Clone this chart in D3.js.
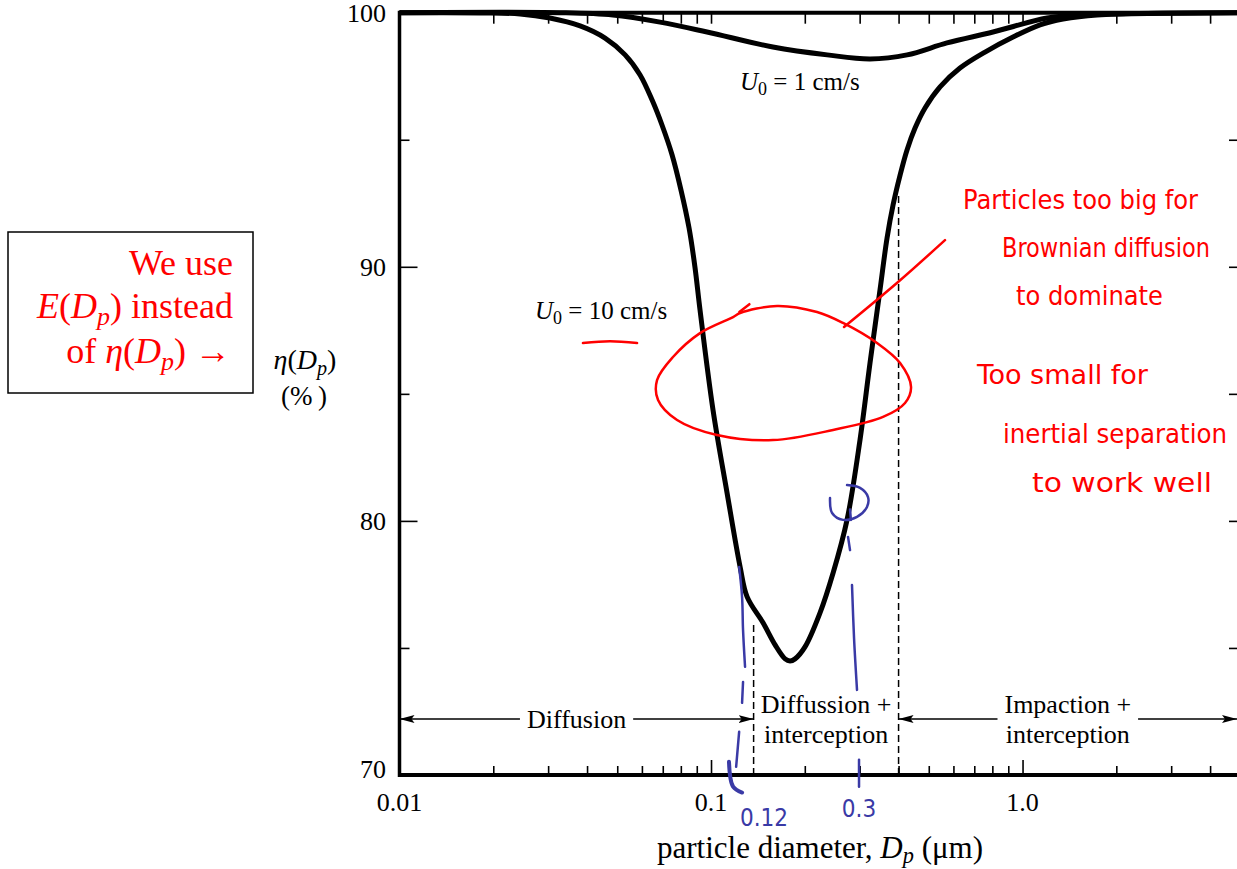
<!DOCTYPE html>
<html><head><meta charset="utf-8">
<script src="https://cdn.jsdelivr.net/npm/d3@7"></script>
<style>body{margin:0;background:#fff}svg{display:block}</style>
</head><body><svg id="c" width="1237" height="869"></svg>
<script>
// ---------- data ----------
const xMajorTicks = [0.01, 0.1, 1.0];
const xTickLabels = ["0.01", "0.1", "1.0"];
const xMinorTicks = [0.02,0.03,0.04,0.05,0.06,0.07,0.08,0.09,0.2,0.3,0.4,0.5,0.6,0.7,0.8,0.9,2,3,4];
const yMajorTicks = [70, 80, 90, 100];
const yTickLabels = ["70", "80", "90", "100"];
const yMinorTicks = [75, 85, 95];

// U0 = 10 cm/s
const dp10  = [0.01,0.0181,0.0244,0.0304,0.0380,0.0457,0.0530,0.0592,0.0647,0.0696,0.0750,0.0801,0.0850,0.0888,0.0922,0.1015,0.1126,0.1240,0.1306,0.1469,0.1606,0.1729,0.1793,0.1861,0.2003,0.2238,0.2465,0.2733,0.3008,0.3239,0.3487,0.3673,0.3840,0.4045,0.4258,0.4518,0.4864,0.5435,0.6298,0.7580,0.9322,1.138,1.349,1.735,4.88];
const eta10 = [100,99.99,99.95,99.79,99.48,99.00,98.34,97.55,96.56,95.58,94.40,93.02,91.53,89.99,88.30,84.36,81.10,78.19,77.01,75.99,75.12,74.57,74.49,74.57,75.04,76.38,77.95,80.04,83.19,86.22,89.09,91.13,92.43,93.61,94.60,95.46,96.25,97.08,97.82,98.45,99.04,99.52,99.75,99.91,100];
// U0 = 1 cm/s
const dp1  = [0.01,0.0327,0.0484,0.0686,0.0971,0.158,0.236,0.324,0.426,0.572,0.804,1.199,1.531,2.214,4.88];
const eta1 = [100,100,99.91,99.63,99.24,98.65,98.34,98.18,98.34,98.81,99.24,99.79,99.91,99.97,100];

// regimes
const regionEdges = [0.01, 0.137, 0.40, 4.88];
const regionTops = [76.0, 92.9];
const regionLabels = [["Diffusion"], ["Diffussion +", "interception"], ["Impaction +", "interception"]];
const arrowLevel = 72.2;

// hand-drawn annotations (data coordinates: diameter µm, efficiency %)
const redLoop = [[0.1240,88.18],[0.1629,88.46],[0.2189,88.22],[0.2653,87.79],[0.3411,87.00],[0.4045,86.21],[0.4386,85.27],[0.4196,84.64],[0.3566,84.09],[0.2465,83.58],[0.1581,83.18],[0.1045,83.38],[0.0778,83.97],[0.0676,84.76],[0.0671,85.54],[0.0755,86.45],[0.0922,87.39],[0.1177,88.02]];
const redTick = [[0.1233,88.22],[0.1328,88.53]];
const redPointer = [[0.2673,87.63],[0.3985,89.40],[0.5637,91.05]];
const redUnderline = [[0.0388,87.0],[0.0474,87.07],[0.0579,87.0]];
const blueStrokes = [
  [[0.1231,78.19],[0.1258,77.01],[0.1267,75.71],[0.1286,74.26]],
  [[0.1267,73.66],[0.1258,72.84]],
  [[0.1231,71.70],[0.1204,70.32]],
  [[0.1142,70.52],[0.1177,69.54],[0.1258,69.31]],
  [[0.2410,80.90],[0.2447,80.31],[0.2653,80.04],[0.2942,80.16],[0.3167,80.55],[0.3191,80.94],[0.3008,81.30],[0.2733,81.41]],
  [[0.2794,80.45],[0.2812,80.04]],
  [[0.2753,79.37],[0.2794,78.85]],
  [[0.2835,77.48],[0.2878,75.39],[0.2942,73.35]],
  [[0.2986,70.60],[0.2986,69.54]]
];
const blueNotes = [{t:"0.12", x:0.148, y:68.0}, {t:"0.3", x:0.2986, y:68.35}];
const redNotes = ["Particles too big for","Brownian diffusion","to dominate","Too small for","inertial separation","to work well"];

// ---------- drawing ----------
const serif = "'Liberation Serif','Times New Roman',serif";
const hand = "'Liberation Sans Narrow','DejaVu Sans Condensed','Liberation Sans',sans-serif";
const svg = d3.select("#c");
const x = d3.scaleLog().domain([0.01, 4.88]).range([399.5, 1237]);
const y = d3.scaleLinear().domain([70, 100]).range([775, 12.7]);

function rich(sel, parts, fs, shift) {
  const sh = fs * (shift || 0.2);
  let shifted = false;
  parts.forEach(p => {
    const ts = sel.append("tspan").text(p.t);
    if (p.i) ts.attr("font-style", "italic");
    if (p.sub) { ts.attr("font-size", fs * 0.72).attr("dy", sh); shifted = true; }
    else if (shifted) { ts.attr("dy", -sh); shifted = false; }
  });
}

// arrow marker
const defs = svg.append("defs");
defs.append("marker").attr("id", "arr").attr("markerUnits", "userSpaceOnUse")
  .attr("markerWidth", 16).attr("markerHeight", 10).attr("refX", 15).attr("refY", 5)
  .attr("orient", "auto-start-reverse")
  .append("path").attr("d", "M0,1 L15,5 L0,9 L3,5 Z").attr("fill", "#000");

// axes ticks
function tickStyle(g) { g.select(".domain").remove(); g.selectAll("line").attr("stroke", "#000").attr("stroke-width", 1.6); }
svg.append("g").attr("transform", `translate(0,${y(70)})`)
  .call(d3.axisTop(x).tickValues(xMinorTicks).tickSize(9).tickFormat("")).call(tickStyle);
svg.append("g").attr("transform", `translate(0,${y(70)})`)
  .call(d3.axisTop(x).tickValues(xMajorTicks.slice(1)).tickSize(15).tickFormat("")).call(tickStyle);
svg.append("g").attr("transform", `translate(0,${y(100)})`)
  .call(d3.axisBottom(x).tickValues(xMinorTicks.concat(xMajorTicks.slice(1))).tickSize(11).tickFormat("")).call(tickStyle);
svg.append("g").attr("transform", `translate(${x(0.01)},0)`)
  .call(d3.axisRight(y).tickValues(yMajorTicks.slice(1, 3)).tickSize(18).tickFormat("")).call(tickStyle);
svg.append("g").attr("transform", `translate(${x(0.01)},0)`)
  .call(d3.axisRight(y).tickValues(yMinorTicks).tickSize(10).tickFormat("")).call(tickStyle);
svg.append("g").attr("transform", `translate(${x.range()[1]},0)`)
  .call(d3.axisLeft(y).tickValues(yMinorTicks.concat(yMajorTicks.slice(1, 3))).tickSize(8).tickFormat("")).call(tickStyle);

// frame lines
svg.append("line").attr("x1", x(0.01)).attr("x2", x.range()[1]).attr("y1", y(100)).attr("y2", y(100)).attr("stroke", "#000").attr("stroke-width", 4);
svg.append("line").attr("x1", x(0.01)).attr("x2", x.range()[1]).attr("y1", y(70)).attr("y2", y(70)).attr("stroke", "#000").attr("stroke-width", 4);
svg.append("line").attr("x1", x(0.01)).attr("x2", x(0.01)).attr("y1", y(100) - 2).attr("y2", y(70) + 2).attr("stroke", "#000").attr("stroke-width", 3.5);

// tick labels
svg.append("g").selectAll("text").data(xMajorTicks).join("text")
  .attr("x", d => x(d)).attr("y", 811).attr("text-anchor", "middle")
  .attr("font-family", serif).attr("font-size", 26).text((d, i) => xTickLabels[i]);
svg.append("g").selectAll("text").data(yMajorTicks).join("text")
  .attr("x", 386).attr("y", d => y(d) + (d === 70 ? -6 : 0)).attr("dy", "0.35em").attr("text-anchor", "end")
  .attr("font-family", serif).attr("font-size", 26).text((d, i) => yTickLabels[i]);

// axis titles
const xt = svg.append("text").attr("x", 820).attr("y", 858).attr("text-anchor", "middle")
  .attr("font-family", serif).attr("font-size", 31);
rich(xt, [{t:"particle diameter, "},{t:"D",i:true},{t:"p",i:true,sub:true},{t:" (\u03bcm)"}], 31, 0.16);
const yt = svg.append("text").attr("x", 305).attr("y", 369).attr("text-anchor", "middle")
  .attr("font-family", serif).attr("font-size", 28);
rich(yt, [{t:"\u03b7",i:true},{t:"("},{t:"D",i:true},{t:"p",i:true,sub:true},{t:")"}], 28);
svg.append("text").attr("x", 304).attr("y", 405).attr("text-anchor", "middle")
  .attr("font-family", serif).attr("font-size", 27).text("(%\u2009)");

// regime dashed lines
svg.append("g").selectAll("line").data(regionTops).join("line")
  .attr("x1", (d, i) => x(regionEdges[i + 1])).attr("x2", (d, i) => x(regionEdges[i + 1]))
  .attr("y1", y(70)).attr("y2", d => y(d))
  .attr("stroke", "#000").attr("stroke-width", 1.5).attr("stroke-dasharray", "7,4");

// regime labels and arrows
regionLabels.forEach((lines, i) => {
  const a = regionEdges[i], b = regionEdges[i + 1];
  const cx = Math.sqrt(a * b);
  const t = svg.append("text").attr("text-anchor", "middle").attr("font-family", serif).attr("font-size", 26);
  if (lines.length === 1) {
    t.append("tspan").attr("x", x(cx)).attr("y", y(arrowLevel) + 9).text(lines[0]);
  } else {
    t.append("tspan").attr("x", x(cx)).attr("y", y(arrowLevel) - 6).text(lines[0]);
    t.append("tspan").attr("x", x(cx)).attr("y", y(arrowLevel) + 24).text(lines[1]);
  }
  if (i !== 1) {
    const bb = t.node().getBBox();
    const ay = y(arrowLevel);
    svg.append("line").attr("x1", bb.x - 7).attr("x2", x(a)).attr("y1", ay).attr("y2", ay)
      .attr("stroke", "#000").attr("stroke-width", 1.5).attr("marker-end", "url(#arr)");
    svg.append("line").attr("x1", bb.x + bb.width + 7).attr("x2", x(b)).attr("y1", ay).attr("y2", ay)
      .attr("stroke", "#000").attr("stroke-width", 1.5).attr("marker-end", "url(#arr)");
  }
});

// curves
const line = d3.line().x(d => x(d[0])).y(d => Math.max(y(d[1]), y(100))).curve(d3.curveCatmullRom.alpha(0.5));
svg.append("path").attr("d", line(dp1.map((d, i) => [d, eta1[i]])))
  .attr("fill", "none").attr("stroke", "#000").attr("stroke-width", 5);
svg.append("path").attr("d", line(dp10.map((d, i) => [d, eta10[i]])))
  .attr("fill", "none").attr("stroke", "#000").attr("stroke-width", 5).attr("stroke-linejoin", "round");

// curve labels
const l1 = svg.append("text").attr("x", 740).attr("y", 90).attr("font-family", serif).attr("font-size", 25);
rich(l1, [{t:"U",i:true},{t:"0",sub:true},{t:" = 1 cm/s"}], 25);
const l10 = svg.append("text").attr("x", 535).attr("y", 319).attr("font-family", serif).attr("font-size", 25);
rich(l10, [{t:"U",i:true},{t:"0",sub:true},{t:" = 10 cm/s"}], 25);

// note box
svg.append("rect").attr("x", 8).attr("y", 232).attr("width", 245).attr("height", 161)
  .attr("fill", "none").attr("stroke", "#000").attr("stroke-width", 1.5);
const boxFs = 36;
svg.append("text").attr("x", 233).attr("y", 275).attr("text-anchor", "end")
  .attr("font-family", serif).attr("font-size", boxFs).attr("fill", "#ff0000").text("We use");
const b2 = svg.append("text").attr("x", 233).attr("y", 318).attr("text-anchor", "end")
  .attr("font-family", serif).attr("font-size", boxFs).attr("fill", "#ff0000");
rich(b2, [{t:"E",i:true},{t:"("},{t:"D",i:true},{t:"p",i:true,sub:true},{t:") instead"}], boxFs);
const b3 = svg.append("text").attr("x", 231).attr("y", 363).attr("text-anchor", "end")
  .attr("font-family", serif).attr("font-size", boxFs).attr("fill", "#ff0000");
rich(b3, [{t:"of "},{t:"\u03b7",i:true},{t:"("},{t:"D",i:true},{t:"p",i:true,sub:true},{t:") \u2192"}], boxFs);

// hand-drawn red annotations
const hline = d3.line().x(d => x(d[0])).y(d => y(d[1])).curve(d3.curveCatmullRom);
const hloop = d3.line().x(d => x(d[0])).y(d => y(d[1])).curve(d3.curveCatmullRomClosed);
svg.append("path").attr("d", hloop(redLoop)).attr("fill", "none").attr("stroke", "#ff0000").attr("stroke-width", 2.5);
[redTick, redPointer, redUnderline].forEach(s =>
  svg.append("path").attr("d", hline(s)).attr("fill", "none").attr("stroke", "#ff0000").attr("stroke-width", 2.5).attr("stroke-linecap", "round"));

const notePos = [[963,209,235],[1002,257,208],[1016,305,147],[977,384,171],[1003,443,224],[1032,492,180]];
svg.append("g").selectAll("text").data(redNotes).join("text")
  .attr("x", (d, i) => notePos[i][0]).attr("y", (d, i) => notePos[i][1])
  .attr("textLength", (d, i) => notePos[i][2]).attr("lengthAdjust", "spacingAndGlyphs")
  .attr("font-family", hand).attr("font-size", 27).attr("fill", "#ff0000").text(d => d);

// hand-drawn blue annotations
const blue = "#3a3aa6";
blueStrokes.forEach((s, i) =>
  svg.append("path").attr("d", hline(s)).attr("fill", "none").attr("stroke", blue)
    .attr("stroke-width", i === 3 ? 4 : 2.5).attr("stroke-linecap", "round"));
svg.append("g").selectAll("text").data(blueNotes).join("text")
  .attr("x", d => x(d.x)).attr("y", d => y(d.y)).attr("text-anchor", "middle")
  .attr("font-family", hand).attr("font-size", 24).attr("fill", blue).text(d => d.t);
</script></body></html>
